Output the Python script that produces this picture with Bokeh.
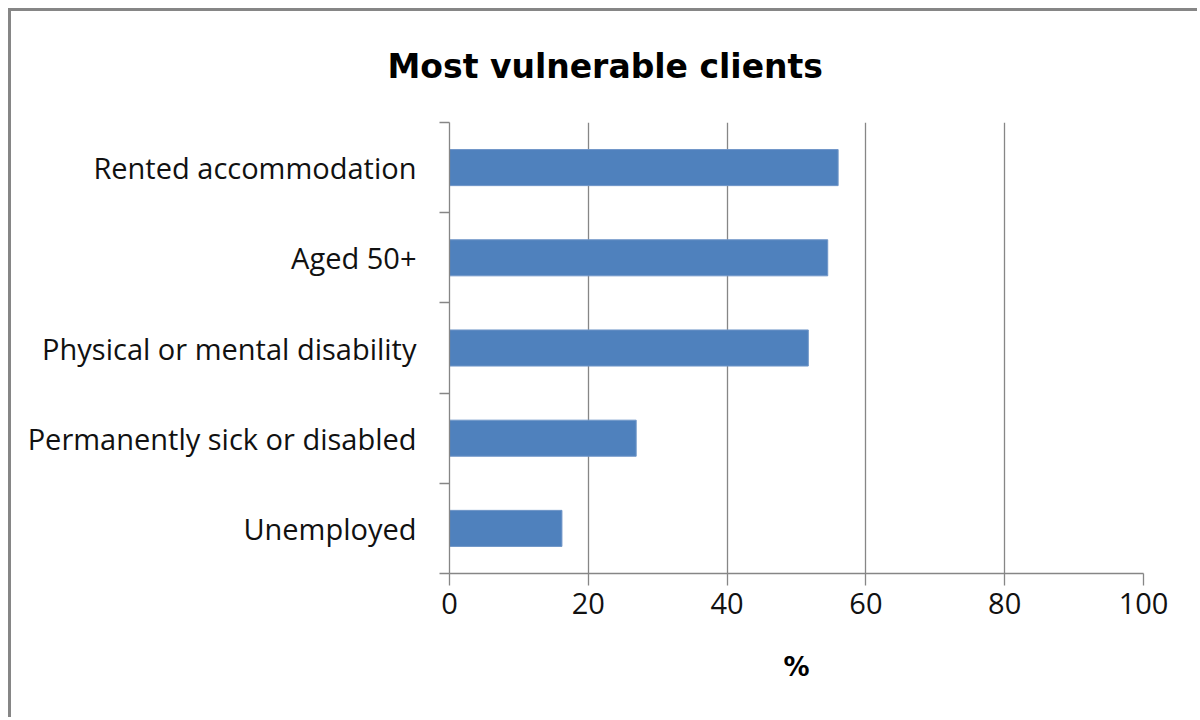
from bokeh.plotting import figure
from bokeh.models import (Range1d, LinearAxis, FixedTicker, Title, ColumnDataSource)
from bokeh.embed import file_html
from bokeh.resources import INLINE

categories = ["Unemployed", "Permanently sick or disabled", "Physical or mental disability",
              "Aged 50+", "Rented accommodation"]
values = [16.2, 26.9, 51.7, 54.5, 56.0]
x_ticks = [0, 20, 40, 60, 80, 100]
title_text = "Most vulnerable clients"
x_label = "%"

GRAY = "#868686"
LABEL_FONT = "Open Sans"
TITLE_FONT = "DejaVu Sans"

n = len(categories)
centers = [i + 0.5 for i in range(n)]
bounds = list(range(n + 1))

W, H = 1189, 709
ML, MR, MT, MB = 438, 57, 111, 147
p = figure(width=W, height=H, output_backend="svg", toolbar_location=None,
           y_range=Range1d(0, n), x_range=Range1d(0, 100),
           x_axis_location=None, y_axis_location=None,
           min_border_left=ML, min_border_right=MR, min_border_top=MT, min_border_bottom=MB)
p.styles = {"margin-left": "8px", "margin-top": "8px",
            "border-left": f"3px solid {GRAY}", "border-top": f"3px solid {GRAY}"}
p.outline_line_color = None
p.background_fill_color = "white"
p.border_fill_color = "white"

p.title = Title(text=title_text, align="left", offset=-62, vertical_align="top",
                standoff=70, text_font=TITLE_FONT, text_font_style="bold",
                text_font_size="33px", text_color="#000000")

src = ColumnDataSource(dict(y=centers, val=values, cat=categories))
p.hbar(y="y", right="val", left=0, height=0.4, source=src,
       fill_color="#4F81BD", line_color="#7096C8", line_width=1)

# x axis
xa = LinearAxis(ticker=FixedTicker(ticks=x_ticks))
xa.axis_line_color = GRAY
xa.axis_line_width = 1.3
xa.major_tick_line_color = GRAY
xa.major_tick_line_width = 1.3
xa.major_tick_out = 12
xa.major_tick_in = 0
xa.minor_tick_line_color = None
xa.major_label_text_font = LABEL_FONT
xa.major_label_text_font_size = "29px"
xa.major_label_text_color = "#111111"
xa.major_label_standoff = 7
xa.axis_label = x_label
xa.axis_label_text_font = TITLE_FONT
xa.axis_label_text_font_style = "bold"
xa.axis_label_text_font_size = "26px"
xa.axis_label_text_color = "#000000"
xa.axis_label_standoff = 35
p.add_layout(xa, "below")

# grid
p.xgrid.ticker = FixedTicker(ticks=x_ticks[1:])
p.xgrid.grid_line_color = GRAY
p.xgrid.grid_line_width = 1.3
p.ygrid.grid_line_color = None

# y axis: labels at band centres (major), tick marks at band boundaries (minor)
ya = LinearAxis(ticker=FixedTicker(ticks=centers, minor_ticks=bounds))
ya.major_label_overrides = {c: name for c, name in zip(centers, categories)}
ya.axis_line_color = GRAY
ya.axis_line_width = 1.3
ya.major_tick_line_color = None
ya.minor_tick_line_color = GRAY
ya.minor_tick_line_width = 1.3
ya.minor_tick_out = 10
ya.minor_tick_in = 0
ya.major_tick_out = 0
ya.major_tick_in = 0
ya.major_label_text_font = LABEL_FONT
ya.major_label_text_font_size = "29px"
ya.major_label_text_color = "#111111"
ya.major_label_standoff = 23
p.add_layout(ya, "left")

open("out.html", "w").write(file_html(p, INLINE))
